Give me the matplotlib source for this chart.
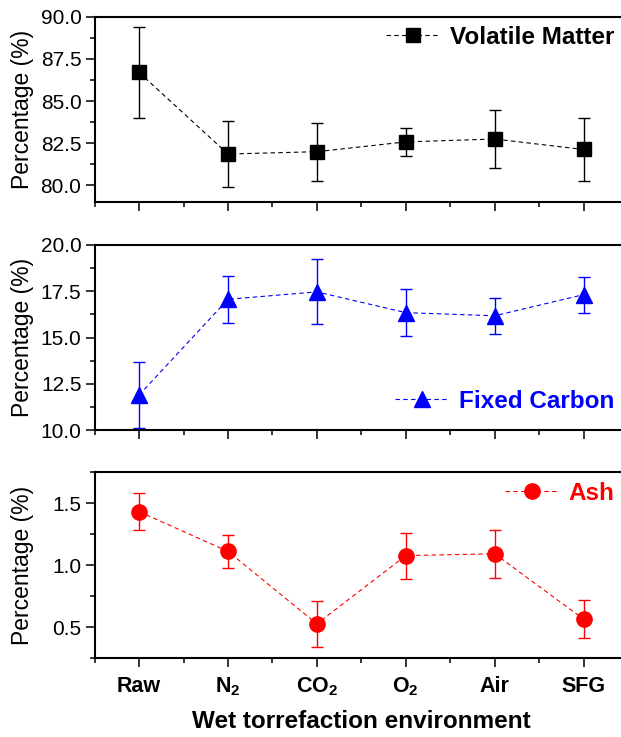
import numpy as np
import matplotlib
matplotlib.use("Agg")
import matplotlib.pyplot as plt
from matplotlib.ticker import MultipleLocator, FormatStrFormatter

plt.rcParams["font.family"] = ["Liberation Sans", "DejaVu Sans"]
plt.rcParams["mathtext.fontset"] = "custom"
plt.rcParams["mathtext.rm"] = "Liberation Sans:bold"
plt.rcParams["mathtext.bf"] = "Liberation Sans:bold"

# 數據
categories = ["Raw", r"N$_\mathrm{2}$", r"CO$_\mathrm{2}$", r"O$_\mathrm{2}$", "Air", "SFG"]

volatile = [86.7, 81.86, 82.0, 82.58, 82.75, 82.13]
volatile_err = [2.7, 1.95, 1.72, 0.85, 1.7, 1.87]

fixed_carbon = [11.9, 17.07, 17.47, 16.35, 16.18, 17.32]
fixed_carbon_err = [1.8, 1.28, 1.75, 1.26, 0.98, 0.97]

ash = [1.433, 1.112, 0.528, 1.078, 1.093, 0.566]
ash_err = [0.148, 0.13, 0.185, 0.185, 0.195, 0.156]

W, H = 621, 737
fig = plt.figure(figsize=(W / 100, H / 100), dpi=100)

x = np.arange(len(categories))
left_px = 94.6
unit_px = 88.9
xmin, xmax = -0.5, 6.5

panels = [
    # (上 px, 下 px, 數據, 誤差, 顏色, 標記, 大小, 標籤, y 範圍, 主刻度, 次刻度, 圖例 y px)
    (16.7, 202.3, volatile, volatile_err, "black", "s", 10.5, "Volatile Matter", (79, 90), 2.5, 1.25, 37),
    (245, 430.3, fixed_carbon, fixed_carbon_err, "blue", "^", 12, "Fixed Carbon", (10, 20), 2.5, 1.25, 401),
    (472.3, 658.3, ash, ash_err, "red", "o", 11, "Ash", (0.25, 1.75), 0.5, 0.25, 493),
]

axes = []
for top, bot, vals, errs, color, marker, ms, label, ylim, major, minor, leg_y in panels:
    ax = fig.add_axes([
        left_px / W,
        1 - bot / H,
        (xmax - xmin) * unit_px / W,
        (bot - top) / H,
    ])
    # 誤差棒（不進圖例）
    ax.errorbar(
        x, vals, yerr=errs, fmt="none", ecolor=color,
        elinewidth=1.0, capsize=4.4, capthick=1.0,
    )
    # 虛線 + 標記
    ax.plot(
        x, vals, color=color, linestyle=(0, (4, 3)), linewidth=0.8,
        marker=marker, markersize=ms, markerfacecolor=color,
        markeredgecolor=color, label=label,
    )
    ax.set_xlim(xmin, xmax)
    ax.set_ylim(*ylim)
    ax.xaxis.set_major_locator(MultipleLocator(1))
    ax.xaxis.set_minor_locator(MultipleLocator(0.5))
    ax.yaxis.set_major_locator(MultipleLocator(major))
    ax.yaxis.set_minor_locator(MultipleLocator(minor))
    ax.yaxis.set_major_formatter(FormatStrFormatter("%.1f"))
    ax.tick_params(axis="both", which="major", direction="out", length=6.5, width=1.1, labelsize=15, pad=3)
    ax.tick_params(axis="both", which="minor", direction="out", length=3.6, width=1.1)
    ax.tick_params(axis="x", which="both", top=False)
    ax.tick_params(axis="y", which="both", right=False)
    for s in ax.spines.values():
        s.set_linewidth(1.5)
    ax.set_ylabel("Percentage (%)", fontsize=16.5)
    ax.yaxis.set_label_coords(-(left_px - 34) / ((xmax - xmin) * unit_px), 0.5)

    leg = ax.legend(
        loc="center right", bbox_to_anchor=(614 / W, 1 - leg_y / H),
        bbox_transform=fig.transFigure, frameon=False, handlelength=2.2,
        handletextpad=0.4, borderaxespad=0, borderpad=0,
        prop={"weight": "bold", "size": 17.5},
    )
    for t in leg.get_texts():
        t.set_color(color)
    axes.append(ax)

for ax in axes[:-1]:
    ax.set_xticks(x)
    ax.set_xticklabels([])

axes[-1].set_xticks(x)
axes[-1].set_xticklabels(categories, fontweight="bold", fontsize=15.5)
axes[-1].tick_params(axis="x", which="major", pad=6)
fig.text((left_px + 3 * unit_px) / W, 1 - 722 / H, "Wet torrefaction environment",
         ha="center", va="center", fontsize=17.5, fontweight="bold")

fig.savefig("out.png", dpi=100)
